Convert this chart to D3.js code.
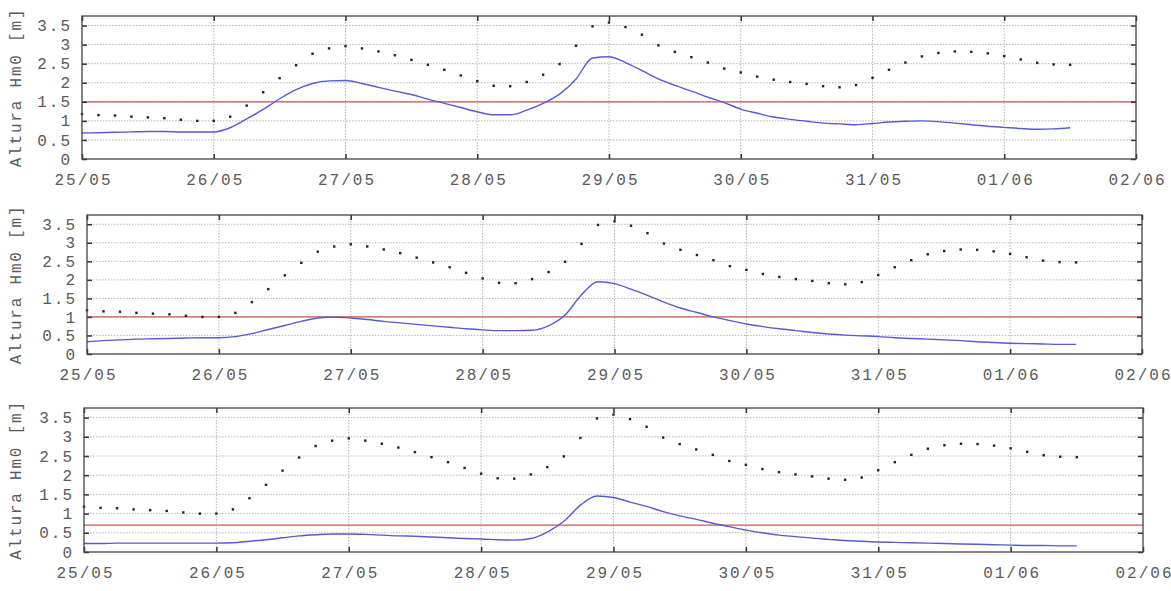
<!DOCTYPE html>
<html><head><meta charset="utf-8">
<script src="https://cdn.jsdelivr.net/npm/d3@7"></script>
<style>
body{margin:0;background:#fff;}
text{font-family:"Liberation Mono","DejaVu Sans Mono",monospace;fill:#5a5a5a;}
</style>
</head><body>
<svg id="c" width="1171" height="591"></svg>
<script>
// ---------- DATA ----------
const startUTC = Date.UTC(2010, 4, 25); // 25/05 00:00
const stepHours = 3;
const tickLabels = ["25/05","26/05","27/05","28/05","29/05","30/05","31/05","01/06","02/06"];
const yTicks = [0, 0.5, 1, 1.5, 2, 2.5, 3, 3.5];
const yTickLabels = ["0","0.5","1","1.5","2","2.5","3","3.5"];
const yMax = 3.75;
// offshore Hm0 (dots), every 3 h from 25/05 00:00
const offshoreHm0 = [1.18,1.15,1.14,1.11,1.09,1.07,1.03,1.00,1.00,1.11,1.40,1.75,2.12,2.46,2.76,2.90,
  2.96,2.90,2.82,2.72,2.60,2.47,2.34,2.19,2.04,1.92,1.91,2.02,2.21,2.49,2.97,3.48,
  3.58,3.46,3.26,2.98,2.81,2.67,2.53,2.37,2.27,2.16,2.08,2.02,1.97,1.91,1.88,1.94,
  2.13,2.34,2.53,2.69,2.78,2.82,2.81,2.77,2.70,2.61,2.52,2.48,2.47];
// coastal Hm0 (blue lines), three points
const coastHm0_1 = [0.68,0.69,0.70,0.71,0.72,0.72,0.71,0.71,0.71,0.82,1.05,1.30,1.58,1.82,1.98,2.05,
  2.06,1.98,1.88,1.78,1.69,1.57,1.46,1.35,1.24,1.16,1.16,1.28,1.46,1.70,2.10,2.65,
  2.68,2.53,2.32,2.10,1.93,1.78,1.62,1.48,1.31,1.20,1.10,1.04,0.99,0.94,0.92,0.90,
  0.93,0.97,0.99,1.00,0.98,0.94,0.90,0.86,0.83,0.80,0.78,0.79,0.82];
const coastHm0_2 = [0.33,0.36,0.38,0.40,0.41,0.42,0.43,0.44,0.44,0.47,0.55,0.66,0.77,0.88,0.97,1.00,
  0.97,0.93,0.88,0.84,0.80,0.76,0.72,0.68,0.65,0.63,0.63,0.64,0.76,1.05,1.60,1.95,
  1.90,1.75,1.58,1.40,1.24,1.12,1.00,0.90,0.81,0.74,0.68,0.63,0.58,0.54,0.51,0.49,
  0.47,0.44,0.42,0.40,0.38,0.36,0.33,0.31,0.29,0.28,0.27,0.26,0.26];
const coastHm0_3 = [0.22,0.22,0.23,0.23,0.23,0.23,0.23,0.23,0.23,0.24,0.28,0.32,0.37,0.42,0.45,0.47,
  0.47,0.46,0.44,0.42,0.41,0.39,0.37,0.35,0.34,0.32,0.31,0.35,0.52,0.80,1.22,1.46,
  1.42,1.30,1.19,1.05,0.94,0.85,0.75,0.66,0.57,0.50,0.44,0.40,0.36,0.33,0.30,0.28,
  0.26,0.25,0.24,0.23,0.22,0.21,0.20,0.19,0.18,0.17,0.17,0.16,0.16];
const thresholds = [1.5, 1.0, 0.7];

// ---------- LAYOUT ----------
const panels = [
  {x0:82, x1:1136, y0:16,  y1:159, series:coastHm0_1, thr:thresholds[0]},
  {x0:87, x1:1142, y0:215, y1:354, series:coastHm0_2, thr:thresholds[1]},
  {x0:84, x1:1143, y0:408, y1:552, series:coastHm0_3, thr:thresholds[2]}
];
const times = offshoreHm0.map((_, i) => new Date(startUTC + i * stepHours * 3600e3));
const tickDates = tickLabels.map((_, i) => new Date(startUTC + i * 86400e3));

const svg = d3.select("#c");
const FS = 16, LS = 2;

panels.forEach(p => {
  const x = d3.scaleUtc().domain([tickDates[0], tickDates[tickDates.length-1]]).range([p.x0, p.x1]);
  const y = d3.scaleLinear().domain([0, yMax]).range([p.y1, p.y0]);
  const g = svg.append("g");

  // grid
  g.append("g").selectAll("line").data(yTicks.filter(v => v > 0)).join("line")
    .attr("x1", p.x0).attr("x2", p.x1).attr("y1", d => y(d)).attr("y2", d => y(d))
    .attr("stroke", "#b5b5b5").attr("stroke-width", 1).attr("stroke-dasharray", "1.5,1.5");
  g.append("g").selectAll("line").data(tickDates.slice(1, -1)).join("line")
    .attr("x1", d => x(d)).attr("x2", d => x(d)).attr("y1", p.y0).attr("y2", p.y1)
    .attr("stroke", "#b5b5b5").attr("stroke-width", 1).attr("stroke-dasharray", "1.5,1.5");

  // threshold
  g.append("line").attr("x1", p.x0).attr("x2", p.x1)
    .attr("y1", y(p.thr)).attr("y2", y(p.thr))
    .attr("stroke", "#c85a5a").attr("stroke-width", 1.3);

  // blue line
  g.append("path").datum(p.series)
    .attr("d", d3.line().x((d, i) => x(times[i])).y(d => y(d)).curve(d3.curveMonotoneX))
    .attr("fill", "none").attr("stroke", "#5a5ad2").attr("stroke-width", 1.4);

  // dots
  g.append("g").selectAll("rect").data(offshoreHm0).join("rect")
    .attr("x", (d, i) => x(times[i]) - 1.2).attr("y", d => y(d) - 1.2)
    .attr("width", 2.4).attr("height", 2.4).attr("fill", "#222");

  // inward ticks
  const tk = (ax, tr) => g.append("g").attr("transform", tr).call(ax)
    .call(s => s.select(".domain").remove())
    .call(s => s.selectAll("line").attr("stroke", "#333").attr("stroke-width", 1.5));
  tk(d3.axisTop(x).tickValues(tickDates).tickSize(5).tickFormat(""), `translate(0,${p.y1})`);
  tk(d3.axisBottom(x).tickValues(tickDates).tickSize(5).tickFormat(""), `translate(0,${p.y0})`);
  tk(d3.axisRight(y).tickValues(yTicks).tickSize(5).tickFormat(""), `translate(${p.x0},0)`);
  tk(d3.axisLeft(y).tickValues(yTicks).tickSize(5).tickFormat(""), `translate(${p.x1},0)`);

  // border
  g.append("rect").attr("x", p.x0).attr("y", p.y0).attr("width", p.x1 - p.x0).attr("height", p.y1 - p.y0)
    .attr("fill", "none").attr("stroke", "#444").attr("stroke-width", 1.3);

  // labels
  g.append("g").attr("transform", `translate(0,${p.y1})`)
    .call(d3.axisBottom(x).tickValues(tickDates).tickSize(0).tickPadding(15)
      .tickFormat((d, i) => tickLabels[i]))
    .call(s => s.select(".domain").remove())
    .call(s => s.selectAll("text").attr("font-size", FS).attr("font-family", null)
      .attr("letter-spacing", LS).attr("dx", LS / 2).style("fill", "#5a5a5a"));
  g.append("g").attr("transform", `translate(${p.x0},0)`)
    .call(d3.axisLeft(y).tickValues(yTicks).tickSize(0).tickPadding(10)
      .tickFormat((d, i) => yTickLabels[i]))
    .call(s => s.select(".domain").remove())
    .call(s => s.selectAll("text").attr("font-size", FS).attr("font-family", null)
      .attr("letter-spacing", LS).style("fill", "#5a5a5a"));

  g.append("text").attr("transform", `translate(21,${(p.y0 + p.y1) / 2}) rotate(-90)`)
    .attr("text-anchor", "middle").attr("font-size", FS).attr("letter-spacing", 1.8)
    .text("Altura Hm0 [m]");
});
</script>
</body></html>
